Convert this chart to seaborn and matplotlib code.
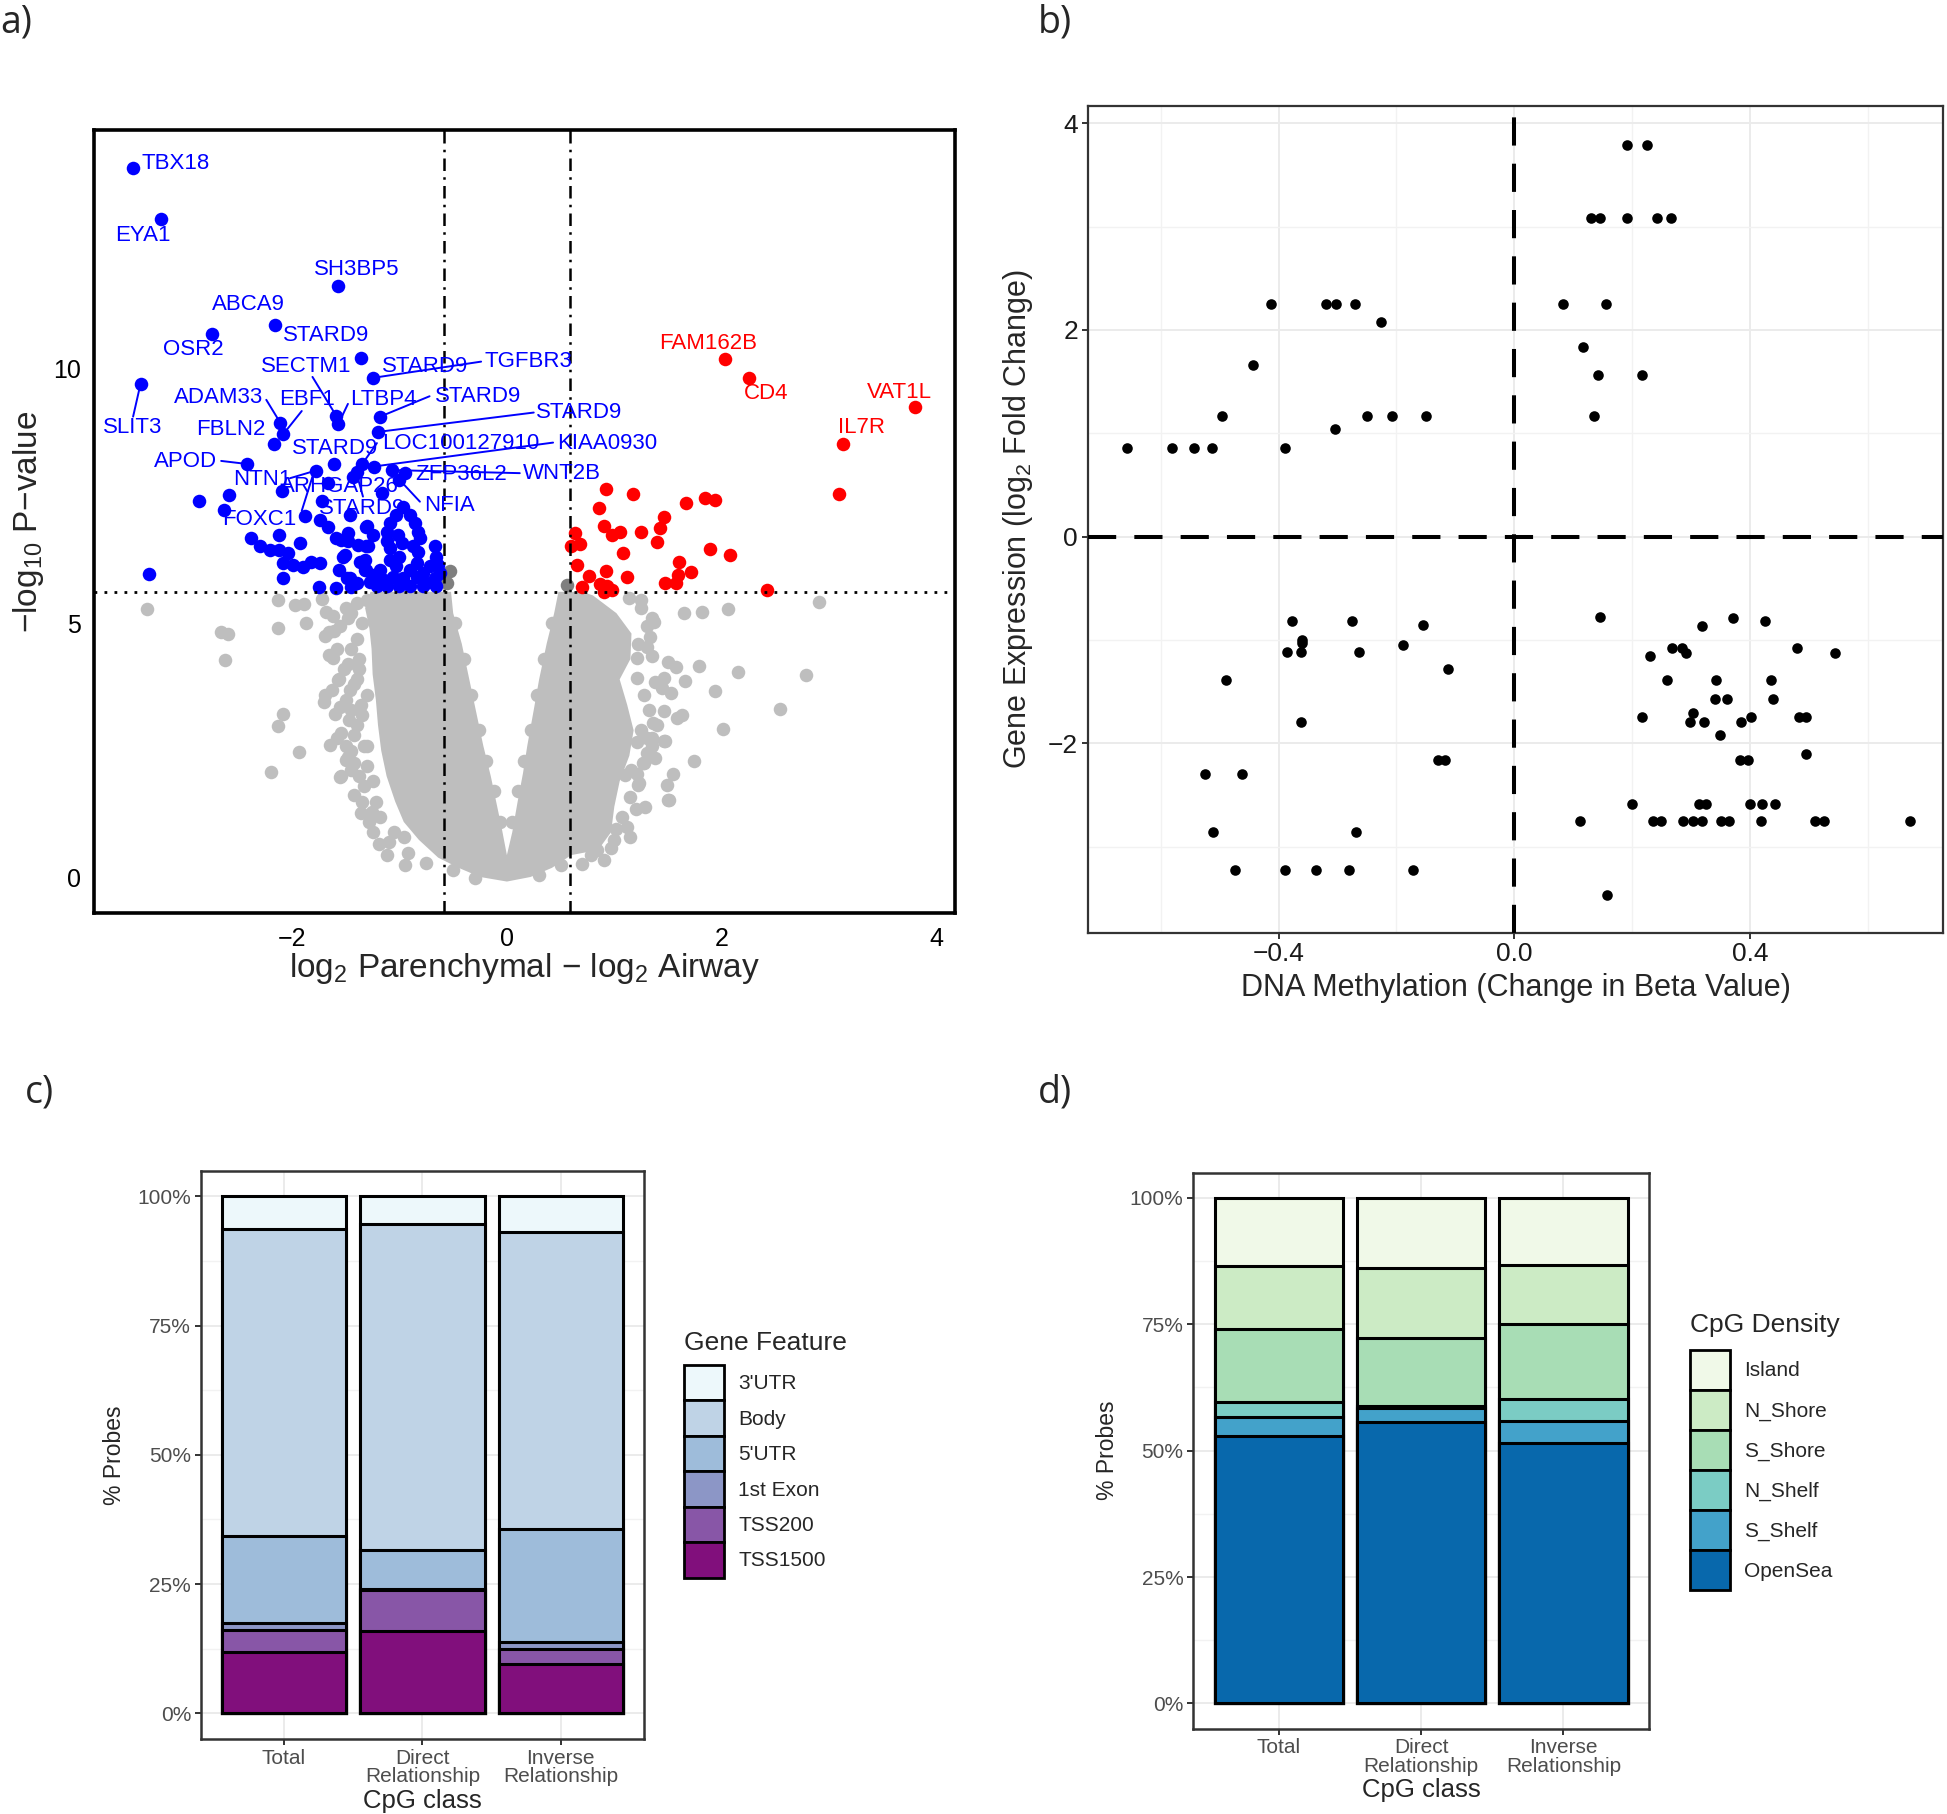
"""
plot.py
-------
Four-panel figure: volcano plot (a), methylation vs expression scatter (b),
and two stacked-percentage bar charts of probe annotation (c, d).
"""

import matplotlib.pyplot as plt
import seaborn as sns
from matplotlib.patches import Patch

sns.set_theme(style="white")
plt.rcParams["font.family"] = ["Liberation Sans", "DejaVu Sans"]
plt.rcParams["mathtext.fontset"] = "custom"
plt.rcParams["mathtext.rm"] = "Liberation Sans"
plt.rcParams["mathtext.it"] = "Liberation Sans:italic"
plt.rcParams["mathtext.bf"] = "Liberation Sans:bold"

# ----------------------------------------------------------------------
# Data: panel a (volcano)
# ----------------------------------------------------------------------
# outline of the dense grey cloud of non-significant genes (log2FC, -log10 p)
cloud_x = [-1.27, -1.32, -1.28, -1.26, -1.25, -1.22, -1.20, -1.17, -1.12, -1.04,
           -0.96, -0.82, -0.64, -0.45, -0.25, 0.00, 0.22, 0.42, 0.60, 0.85,
           0.97, 1.00, 1.05, 1.14, 1.18, 1.12, 1.05, 1.15, 1.16, 1.02, 0.80, 0.70,
           0.48, 0.44, 0.37, 0.30, 0.25, 0.19, 0.15, 0.10, 0.05, 0.00,
           -0.05, -0.09, -0.15, -0.22, -0.29, -0.36, -0.42, -0.50, -0.52]
cloud_y = [5.62, 5.30, 4.90, 4.50, 4.00, 3.50, 3.00, 2.50, 2.00, 1.50,
           1.10, 0.75, 0.40, 0.20, 0.02, -0.07, 0.02, 0.20, 0.45, 0.55,
           0.90, 1.40, 1.90, 2.40, 2.90, 3.40, 3.90, 4.30, 4.80, 5.20, 5.55, 5.62,
           5.62, 5.20, 4.60, 3.90, 3.30, 2.60, 2.06, 1.50, 0.90, 0.45,
           1.00, 1.40, 2.00, 2.60, 3.30, 4.00, 4.60, 5.20, 5.62]

grey_x = [-3.35, -2.66, -2.60, -2.62, -2.13, -2.08, -2.13, -1.94, -2.20, -2.13,
          -1.97, -1.89, -1.72, -1.68, -1.87, -1.66, -1.61, -1.66, -1.56, -1.63,
          -1.70, -1.50, -1.45, -1.55, -1.26, -1.10, -0.96, -1.45, -1.40, -1.35,
          -1.42, -1.30, -1.38, -1.48, -1.40, -1.33, -1.22, -1.30, -1.45,
          -1.69, -1.62, -1.57, -1.69, -1.60, -1.54, -1.65, -1.48, -1.54, -1.42,
          -1.36, -1.25, -1.19, -1.35, -1.40, -1.38, -1.42, -1.36, -1.40, -1.33,
          -1.30, -1.25, -1.18, -1.05, -0.92, -0.75, -1.30, -1.50, -1.55, -1.48,
          -1.50, -1.45, -1.38,
          -1.58, -1.52, -1.46, -1.55, -1.47, -1.58, -1.50, -1.42, -1.35, -1.28,
          -1.12, -0.95, -1.45, -1.62,
          -0.48, -0.40, -0.33, -0.26, -0.19, -0.12, -0.06,
          0.42, 0.35, 0.28, 0.22, 0.16, 0.10, 0.05,
          -0.50, -0.30, 0.30, 0.50,
          2.91, 2.06, 1.82, 1.65, 1.37, 1.14, 2.15, 2.78, 2.54, 1.79, 1.94, 1.66,
          2.01, 1.74, 1.55, 1.51, 1.29, 1.47, 1.63, 1.50, 1.57, 0.97, 0.84, 1.21,
          1.23, 1.28, 1.33, 1.30, 1.21, 1.21, 1.46, 1.44, 1.53, 1.46, 1.36, 1.58,
          1.35, 1.46, 1.21, 1.35, 1.27, 1.16, 1.10, 1.49, 1.22, 1.50, 1.07, 1.02,
          1.25, 1.30, 1.28, 1.32, 1.25, 1.30, 1.15, 1.12, 1.00, 0.78, 1.35, 1.40,
          1.25, 1.35, 1.22, 1.38, 1.30, 1.38, 1.20, 1.15, 0.90, 0.70]
grey_y = [5.28, 4.83, 4.80, 4.28, 4.90, 3.23, 2.99, 2.47, 2.09, 5.45,
          5.36, 5.38, 5.47, 5.23, 5.00, 4.84, 4.86, 4.38, 3.90, 3.69,
          3.46, 2.32, 2.12, 1.99, 1.30, 0.71, 0.81, 4.50, 3.90, 3.20,
          2.80, 2.60, 4.10, 5.10, 5.40, 1.80, 1.50, 3.60, 3.30,
          4.76, 4.32, 3.88, 3.59, 3.22, 2.85, 2.61, 2.37, 2.00, 1.63,
          1.27, 0.90, 0.66, 5.00, 4.70, 4.30, 3.80, 3.40, 3.00, 2.60,
          2.20, 1.90, 1.20, 0.90, 0.50, 0.30, 5.45, 5.30, 4.95, 4.20,
          3.50, 2.50, 2.00,
          4.50, 4.10, 3.70, 3.35, 3.10, 2.75, 2.60, 2.25, 1.50, 1.10,
          0.45, 0.25, 5.20, 5.15,
          5.00, 4.30, 3.60, 2.90, 2.30, 1.70, 1.10,
          5.00, 4.30, 3.60, 2.90, 2.30, 1.70, 1.10,
          0.15, 0.00, 0.05, 0.25,
          5.41, 5.28, 5.22, 5.20, 5.02, 5.50, 4.05, 3.99, 3.31, 4.16, 3.67, 3.87,
          2.93, 2.30, 2.04, 1.53, 1.40, 2.69, 3.20, 4.25, 4.15, 0.58, 0.54, 2.05,
          1.86, 2.26, 4.74, 4.54, 4.32, 3.92, 3.92, 3.73, 3.63, 3.27, 3.04, 3.14,
          2.74, 2.69, 2.68, 2.59, 2.25, 2.12, 2.02, 1.83, 1.83, 1.53, 1.20, 0.97,
          5.30, 4.95, 3.60, 3.30, 2.90, 2.45, 1.60, 1.00, 0.75, 0.45, 4.35, 3.00,
          5.45, 5.10, 4.60, 3.85, 2.75, 2.35, 1.35, 0.80, 0.35, 0.28]

# significant p-value but small fold change
dark_x = [-0.53, -0.56, 0.56]
dark_y = [6.02, 5.79, 5.75]

down_x = [-3.48, -3.22, -1.57, -2.16, -2.75, -1.36, -1.25, -3.41, -1.18, -1.59,
          -1.57, -2.11, -2.08, -2.17, -1.20, -2.42, -1.61, -1.35, -1.24, -1.78,
          -1.40, -1.07, -0.95, -1.43, -1.67, -2.09, -1.16, -2.59, -2.87, -1.72,
          -2.63, -1.88, -1.74, -1.46, -1.30, -1.67, -1.59, -1.48, -2.12, -2.38,
          -1.93, -3.33, -2.30, -2.21, -2.12, -2.04, -2.08, -1.99, -1.90, -1.82,
          -1.74, -2.08, -1.75, -1.59, -1.51, -1.31, -1.37, -1.31, -1.46, -1.40,
          -1.27, -0.97, -1.03, -1.09, -1.12, -1.12, -1.09, -1.01, -0.98, -0.90,
          -0.86, -0.83, -0.81, -0.87, -0.83, -0.67, -0.66, -0.64, -1.49, -1.45,
          -1.32, -1.32, -1.25, -1.18, -1.14, -1.09, -1.03, -1.00, -1.06, -0.97,
          -0.90, -0.84, -0.84, -0.78, -0.72, -0.75, -0.67, -0.62, -1.21, -1.12,
          -1.00, -0.90, -0.78, -0.66, -1.54, -1.53, -1.56, -1.39, -1.29, -1.48,
          -1.31, -1.25, -1.00]
down_y = [13.95, 12.94, 11.63, 10.85, 10.69, 10.22, 9.82, 9.71, 9.06, 9.08,
          8.91, 8.94, 8.72, 8.52, 8.76, 8.13, 8.13, 8.12, 8.08, 8.00,
          7.98, 8.01, 7.95, 7.88, 7.75, 7.59, 7.56, 7.52, 7.41, 7.41,
          7.23, 7.10, 7.03, 7.12, 6.92, 6.90, 6.67, 6.61, 6.74, 6.67,
          6.57, 5.97, 6.51, 6.44, 6.44, 6.38, 6.18, 6.15, 6.11, 6.21,
          6.18, 5.89, 5.72, 5.69, 6.35, 6.51, 6.21, 6.05, 5.89, 5.79,
          5.82, 7.29, 7.13, 6.97, 6.80, 6.61, 6.48, 6.74, 6.57, 7.13,
          6.97, 6.80, 6.67, 6.51, 6.41, 6.51, 6.31, 6.15, 5.89, 5.72,
          6.25, 6.05, 5.95, 6.05, 5.85, 6.25, 6.12, 6.31, 5.92, 5.89,
          6.05, 6.18, 5.92, 5.98, 6.12, 5.79, 5.89, 5.98, 5.73, 5.73,
          5.73, 5.73, 5.73, 5.73, 6.64, 6.31, 6.05, 6.54, 6.51, 6.77,
          6.90, 6.74, 7.82]

up_x = [2.03, 2.25, 3.80, 3.13, 3.09, 2.42, 0.92, 1.17, 0.86, 1.67, 1.84, 1.94,
        1.46, 1.43, 0.90, 0.98, 1.05, 1.25, 1.40, 0.63, 0.60, 0.68, 1.08, 1.89,
        2.08, 0.65, 0.92, 1.12, 1.60, 1.59, 1.71, 1.47, 1.57, 0.76, 0.70, 0.87,
        0.93, 0.98, 0.90]
up_y = [10.20, 9.82, 9.24, 8.53, 7.54, 5.66, 7.63, 7.54, 7.27, 7.36, 7.46, 7.43,
        7.08, 6.88, 6.92, 6.74, 6.80, 6.79, 6.59, 6.78, 6.51, 6.55, 6.38, 6.46,
        6.34, 6.15, 6.02, 5.92, 6.21, 5.95, 6.00, 5.80, 5.79, 5.93, 5.72, 5.78,
        5.74, 5.66, 5.62]

fc_cut = 0.585
p_cut = 5.61

lab_name = ["TBX18", "EYA1", "SH3BP5", "ABCA9", "STARD9", "OSR2", "SECTM1",
            "STARD9", "TGFBR3", "ADAM33", "EBF1", "LTBP4", "STARD9", "STARD9",
            "SLIT3", "FBLN2", "STARD9", "LOC100127910", "KIAA0930", "APOD",
            "NTN1", "ARHGAP26", "ZFP36L2", "WNT2B", "NFIA", "FOXC1", "STARD9",
            "FAM162B", "CD4", "VAT1L", "IL7R"]
lab_x = [-3.08, -3.39, -1.40, -2.41, -1.68, -2.92, -1.87, -0.76, 0.20, -2.68,
         -1.86, -1.15, -0.27, 0.67, -3.48, -2.57, -1.60, -0.43, 0.93, -2.99,
         -2.28, -1.56, -0.43, 0.51, -0.53, -2.31, -1.35, 1.87, 2.41, 3.65, 3.30]
lab_y = [14.04, 12.61, 11.94, 11.26, 10.65, 10.37, 10.05, 10.05, 10.14, 9.44,
         9.39, 9.39, 9.46, 9.14, 8.85, 8.80, 8.43, 8.53, 8.54, 8.18,
         7.83, 7.69, 7.92, 7.94, 7.31, 7.03, 7.26, 10.50, 9.52, 9.53, 8.85]
lab_up = ["FAM162B", "CD4", "VAT1L", "IL7R"]

# repel segments: label end -> point
seg_x0 = [-1.81, -0.24, -2.24, -1.91, -1.48, -0.72, 0.25, -3.48, -1.21, 0.43,
          -2.66, -2.02, -1.91, -1.34, 0.12, -0.81]
seg_y0 = [9.84, 10.14, 9.39, 9.17, 9.31, 9.46, 9.14, 9.06, 8.54, 8.55,
          8.19, 7.85, 7.21, 7.49, 7.95, 7.39]
seg_x1 = [-1.59, -1.25, -2.11, -2.08, -1.57, -1.18, -1.20, -3.41, -1.35, -1.24,
          -2.42, -1.78, -1.80, -1.40, -1.07, -1.00]
seg_y1 = [9.08, 9.82, 8.94, 8.72, 8.91, 9.06, 8.76, 9.71, 8.12, 8.08,
          8.13, 8.00, 7.95, 7.95, 8.01, 7.82]

# ----------------------------------------------------------------------
# Data: panel b (methylation change vs expression change)
# ----------------------------------------------------------------------
meth = [0.192, 0.225, 0.131, 0.145, 0.192, 0.242, 0.266, 0.082, 0.156, 0.117,
        0.142, 0.217, 0.136,
        -0.413, -0.320, -0.302, -0.270, -0.226, -0.443, -0.496, -0.250, -0.207,
        -0.149, -0.305, -0.657, -0.581, -0.544, -0.513, -0.389,
        -0.378, -0.276, -0.155, -0.361, -0.361, -0.189, -0.385, -0.362, -0.264,
        -0.112, -0.489, -0.362, -0.130, -0.118, -0.525, -0.462, -0.511, -0.269,
        -0.474, -0.389, -0.337, -0.281, -0.172,
        0.145, 0.372, 0.426, 0.319, 0.268, 0.285, 0.231, 0.292, 0.480, 0.544,
        0.259, 0.343, 0.435, 0.341, 0.361, 0.440, 0.216, 0.303, 0.299, 0.322,
        0.385, 0.402, 0.484, 0.496, 0.349, 0.495, 0.383, 0.396,
        0.200, 0.313, 0.325, 0.400, 0.421, 0.442,
        0.112, 0.236, 0.249, 0.287, 0.304, 0.319, 0.351, 0.365, 0.419, 0.511,
        0.525, 0.671, 0.158]
expr = [3.79, 3.79, 3.08, 3.08, 3.08, 3.08, 3.08, 2.25, 2.25, 1.83,
        1.56, 1.56, 1.17,
        2.25, 2.25, 2.25, 2.25, 2.08, 1.66, 1.17, 1.17, 1.17,
        1.17, 1.04, 0.86, 0.86, 0.86, 0.86, 0.86,
        -0.82, -0.82, -0.85, -1.00, -1.03, -1.05, -1.12, -1.12, -1.12,
        -1.28, -1.39, -1.79, -2.16, -2.16, -2.30, -2.30, -2.86, -2.86,
        -3.22, -3.22, -3.22, -3.22, -3.22,
        -0.78, -0.79, -0.82, -0.86, -1.08, -1.08, -1.15, -1.13, -1.08, -1.13,
        -1.39, -1.39, -1.39, -1.57, -1.57, -1.57, -1.74, -1.71, -1.79, -1.79,
        -1.79, -1.74, -1.74, -1.74, -1.92, -2.10, -2.16, -2.16,
        -2.59, -2.59, -2.59, -2.59, -2.59, -2.59,
        -2.75, -2.75, -2.75, -2.75, -2.75, -2.75, -2.75, -2.75, -2.75, -2.75,
        -2.75, -2.75, -3.47]

# ----------------------------------------------------------------------
# Data: panels c, d (% probes per CpG class), stacked bottom -> top
# ----------------------------------------------------------------------
cpg_class = ["Total", "Direct\nRelationship", "Inverse\nRelationship"]

gene_feature = ["TSS1500", "TSS200", "1st Exon", "5'UTR", "Body", "3'UTR"]
feat_pct = {
    "TSS1500": [11.8, 15.9, 9.6],
    "TSS200": [4.4, 7.9, 2.8],
    "1st Exon": [1.2, 0.3, 1.4],
    "5'UTR": [16.8, 7.5, 21.9],
    "Body": [59.5, 63.0, 57.5],
    "3'UTR": [6.3, 5.4, 6.8],
}
feat_col = ["#810f7c", "#8856a7", "#8c96c6", "#9ebcda", "#bfd3e6", "#edf8fb"]

cpg_density = ["OpenSea", "S_Shelf", "N_Shelf", "S_Shore", "N_Shore", "Island"]
dens_pct = {
    "OpenSea": [52.9, 55.6, 51.5],
    "S_Shelf": [3.8, 2.9, 4.4],
    "N_Shelf": [2.9, 0.3, 4.4],
    "S_Shore": [14.4, 13.4, 14.8],
    "N_Shore": [12.5, 14.0, 11.7],
    "Island": [13.5, 13.8, 13.2],
}
dens_col = ["#0868ac", "#43a2ca", "#7bccc4", "#a8ddb5", "#ccebc5", "#f0f9e8"]

# ----------------------------------------------------------------------
W, H = 1947, 1814
fig = plt.figure(figsize=(W / 100, H / 100), dpi=100)

# ---------------------------- panel a ---------------------------------
ax = fig.add_axes([0.0485, 0.4969, 0.4419, 0.4312])
ax.fill(cloud_x, cloud_y, color="#BEBEBE", lw=0, zorder=1)
sns.scatterplot(x=grey_x, y=grey_y, color="#BEBEBE", s=95, linewidth=0, ax=ax, zorder=2)
sns.scatterplot(x=dark_x, y=dark_y, color="#7F7F7F", s=95, linewidth=0, ax=ax, zorder=3)
sns.scatterplot(x=down_x, y=down_y, color="#0000FF", s=95, linewidth=0, ax=ax, zorder=3)
sns.scatterplot(x=up_x, y=up_y, color="#FF0000", s=95, linewidth=0, ax=ax, zorder=3)
for v in (-fc_cut, fc_cut):
    ax.axvline(v, color="black", lw=1.8, dashes=(5, 2.5, 1, 2.5), zorder=4)
ax.axhline(p_cut, color="black", lw=2, linestyle=(0, (1, 2.6)), zorder=4)
for x0, y0, x1, y1 in zip(seg_x0, seg_y0, seg_x1, seg_y1):
    ax.plot([x0, x1], [y0, y1], color="#0000FF", lw=1.4, zorder=5)
for name, lx, ly in zip(lab_name, lab_x, lab_y):
    col = "#FF0000" if name in lab_up else "#0000FF"
    ax.text(lx, ly, name, color=col, fontsize=16, ha="center", va="center", zorder=6)
ax.set_xlim(-3.84, 4.17)
ax.set_ylim(-0.68, 14.68)
ax.set_xticks([-2, 0, 2, 4])
ax.set_yticks([0, 5, 10])
ax.tick_params(direction="out", length=6, width=1.6, colors="black", labelsize=18, pad=4)
ax.set_xlabel("log$_2$ Parenchymal − log$_2$ Airway", fontsize=24, labelpad=0)
ax.set_ylabel("−log$_{10}$ P−value", fontsize=24, labelpad=5)
for sp in ax.spines.values():
    sp.set_linewidth(2.6)
    sp.set_color("black")

# ---------------------------- panel b ---------------------------------
ax = fig.add_axes([0.5587, 0.4859, 0.4393, 0.4559])
ax.set_axisbelow(True)
sns.scatterplot(x=meth, y=expr, color="black", s=58, linewidth=0, ax=ax, zorder=3)
ax.axvline(0, color="black", lw=2.9, dashes=(7, 4.5), zorder=4)
ax.axhline(0, color="black", lw=2.9, dashes=(7, 4.5), zorder=4)
ax.set_xlim(-0.724, 0.728)
ax.set_ylim(-3.83, 4.17)
ax.set_xticks([-0.4, 0.0, 0.4])
ax.set_xticklabels(["−0.4", "0.0", "0.4"])
ax.set_yticks([-2, 0, 2, 4])
ax.set_yticklabels(["−2", "0", "2", "4"])
ax.set_xticks([-0.6, -0.2, 0.2, 0.6], minor=True)
ax.set_yticks([-3, -1, 1, 3], minor=True)
ax.grid(True, which="major", color="#EBEBEB", lw=1.4)
ax.grid(True, which="minor", color="#F2F2F2", lw=1.0)
ax.tick_params(which="major", direction="out", length=4, width=1.4, color="#333333",
               labelcolor="#1A1A1A", labelsize=19, pad=3, left=True, bottom=True)
ax.tick_params(which="minor", length=0)
ax.set_xlabel("DNA Methylation (Change in Beta Value)", fontsize=22, labelpad=5)
ax.set_ylabel("Gene Expression (log$_2$ Fold Change)", fontsize=22, labelpad=9)
for sp in ax.spines.values():
    sp.set_linewidth(1.6)
    sp.set_color("#333333")


# ------------------------ panels c and d ------------------------------
def stacked_panel(rect, levels, pct, colors, title, title_xy, keys_xy, key_h):
    ax = fig.add_axes(rect)
    ax.set_axisbelow(True)
    cum = [0.0] * len(cpg_class)
    tops = []
    for lev in levels:
        cum = [c + v for c, v in zip(cum, pct[lev])]
        tops.append(list(cum))
    # draw tallest first so each lower segment sits on top of it
    for lev_top, col in reversed(list(zip(tops, colors))):
        sns.barplot(x=cpg_class, y=lev_top, color=col, saturation=1, width=0.9,
                    edgecolor="black", linewidth=2.2, errorbar=None, ax=ax, zorder=2)
    ax.set_xlim(-0.6, 2.6)
    ax.set_ylim(-5, 105)
    ax.set_yticks([0, 25, 50, 75, 100])
    ax.set_yticklabels(["0%", "25%", "50%", "75%", "100%"])
    ax.set_yticks([12.5, 37.5, 62.5, 87.5], minor=True)
    ax.grid(True, which="major", color="#EBEBEB", lw=1.4)
    ax.grid(True, which="minor", axis="y", color="#F2F2F2", lw=1.0)
    ax.tick_params(which="major", direction="out", length=4, width=1.4, color="#333333",
                   labelcolor="#4D4D4D", labelsize=15, pad=3, left=True, bottom=True)
    ax.tick_params(which="minor", length=0)
    for t in ax.get_xticklabels():
        t.set_linespacing(0.95)
    ax.set_xlabel("CpG class", fontsize=18.5, labelpad=2)
    ax.set_ylabel("% Probes", fontsize=16.5, labelpad=8)
    for sp in ax.spines.values():
        sp.set_linewidth(1.8)
        sp.set_color("#333333")
    # legend: title as its own text, keys stacked without gaps
    fig.text(title_xy[0] / W, 1 - title_xy[1] / H, title, fontsize=19,
             ha="left", va="center")
    handles = [Patch(facecolor=c, edgecolor="black", linewidth=2.0)
               for c in reversed(colors)]
    ax.legend(handles, list(reversed(levels)), loc="upper left",
              bbox_to_anchor=(keys_xy[0] / W, 1 - keys_xy[1] / H),
              bbox_transform=fig.transFigure, frameon=False, fontsize=15,
              handlelength=1.9, handleheight=key_h, labelspacing=0.0,
              handletextpad=0.7, borderpad=0, borderaxespad=0)
    return ax


stacked_panel([0.1032, 0.0413, 0.2275, 0.3134], gene_feature, feat_pct, feat_col,
              "Gene Feature", (684, 1343), (684, 1365), 2.24)
stacked_panel([0.6129, 0.0470, 0.2340, 0.3066], cpg_density, dens_pct, dens_col,
              "CpG Density", (1690, 1325), (1690, 1350), 2.58)

# ---------------------------- panel tags ------------------------------
for tag, fx, fy in [("a)", 0, 22), ("b)", 1038, 22), ("c)", 25, 1093), ("d)", 1038, 1093)]:
    fig.text(fx / W, 1 - fy / H, tag, fontsize=27, ha="left", va="center",
             family=["Open Sans", "DejaVu Sans"])

fig.savefig("out.png", dpi=100)
